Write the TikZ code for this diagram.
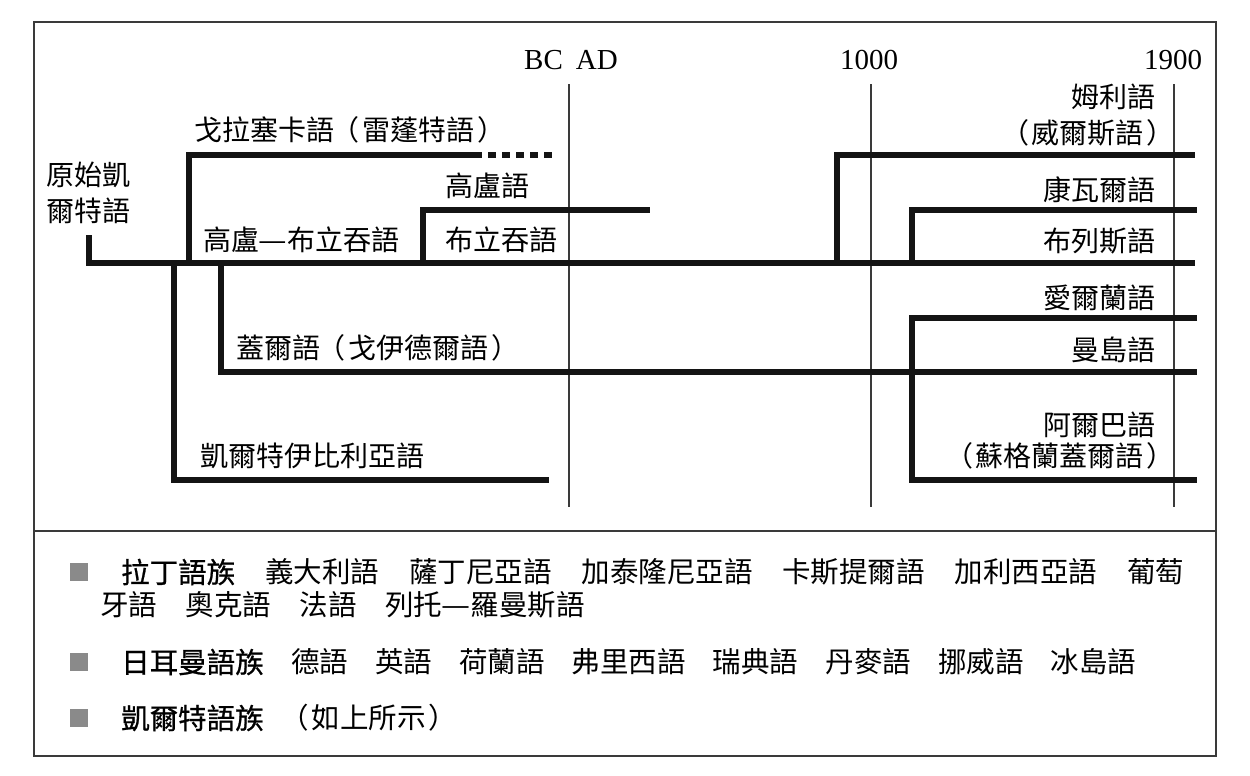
\documentclass[tikz,border=0pt]{standalone}
\usepackage{graphicx}
\usepackage{fontspec}
\setmainfont{Noto Sans CJK TC}
\newfontfamily\numfont{Liberation Serif}
\newfontfamily\famfont[FakeBold=0.8]{Noto Sans CJK TC}
% full-width brackets and dash, each given a whole character cell
\newcommand{\zkL}{\makebox[1em][r]{（\hspace{0.1em}}}
\newcommand{\zkR}{\makebox[1em][l]{\hspace{0.1em}）}}
\newcommand{\zdash}{\makebox[1em]{\resizebox{1.02em}{\height}{—}}}
\definecolor{ink}{HTML}{141414}
\definecolor{rule}{HTML}{3A3A3A}
\definecolor{boxgray}{HTML}{8A8A8A}
\begin{document}
\begin{tikzpicture}[x=1pt,y=-1pt,
  branch/.style={draw=ink, line width=6pt, line cap=butt, line join=miter},
  era/.style={draw=rule, line width=1.1pt},
  frame/.style={draw=rule, line width=1.5pt},
  lbl/.style={inner sep=0pt, font=\fontsize{28}{34}\selectfont},
  yr/.style={inner sep=0pt, font=\numfont\fontsize{29}{34}\selectfont},
  fam/.style={inner sep=0pt, anchor=west, font=\famfont\fontsize{28.5}{34}\selectfont},
  item/.style={inner sep=0pt, anchor=west, font=\fontsize{28.5}{34}\selectfont},
  bullet/.style={fill=boxgray, inner sep=0pt, minimum size=18pt}
]
\useasboundingbox (0,0) rectangle (1250,776);

% outer frame and the rule above the legend
\draw[frame] (34,22) rectangle (1216,756);
\draw[frame] (34,531) -- (1216,531);

% time scale
\node[yr] (bcad) at (571,60) {BC\hspace{0.45em}AD};
\node[yr] (y1000) at (869,60) {1000};
\node[yr] (y1900) at (1173,60) {1900};
\coordinate (bcadtop) at (569,84);  \coordinate (bcadbot) at (569,507);
\coordinate (ktop) at (871,84);     \coordinate (kbot) at (871,507);
\coordinate (ntop) at (1174,84);    \coordinate (nbot) at (1174,507);
\draw[era] (bcadtop) -- (bcadbot);
\draw[era] (ktop) -- (kbot);
\draw[era] (ntop) -- (nbot);

% branch points
\coordinate (root) at (89,235);
\coordinate (trunk) at (89,263);
\coordinate (trunkend) at (1195,263);
\coordinate (lepfork) at (189,263);
\coordinate (lepend) at (482,155);
\coordinate (lepdots) at (488,155);
\coordinate (lepdotsend) at (556,155);
\coordinate (celtibfork) at (174,263);
\coordinate (celtibend) at (549,480);
\coordinate (goidfork) at (221,263);
\coordinate (goidend) at (1197,372);
\coordinate (gaulfork) at (423,263);
\coordinate (gaulend) at (650,210);
\coordinate (welshfork) at (837,263);
\coordinate (welshend) at (1195,155);
\coordinate (cornfork) at (912,263);
\coordinate (cornend) at (1197,210);
\coordinate (irtop) at (912,318);
\coordinate (irend) at (1197,318);
\coordinate (scotbot) at (912,480);
\coordinate (scotend) at (1197,480);

% the tree
\draw[branch] (root) -- (trunk) -- (trunkend);
\draw[branch] (lepfork) |- (lepend);
\draw[branch, dash pattern=on 8pt off 6pt] (lepdots) -- (lepdotsend);
\draw[branch] (celtibfork) |- (celtibend);
\draw[branch] (goidfork) |- (goidend);
\draw[branch] (gaulfork) |- (gaulend);
\draw[branch] (welshfork) |- (welshend);
\draw[branch] (cornfork) |- (cornend);
\draw[branch] (irend) -- (irtop) -- (scotbot) -- (scotend);

% labels on the tree
\node[lbl, anchor=west] (proto1) at (46,175) {原始凱};
\node[lbl, anchor=west] (proto2) at (46,211) {爾特語};
\node[lbl, anchor=west] (lep) at (194,130) {戈拉塞卡語\zkL 雷蓬特語\zkR};
\node[lbl, anchor=west] (gaul) at (445,186) {高盧語};
\node[lbl, anchor=west] (galbr) at (203,240) {高盧\zdash 布立吞語};
\node[lbl, anchor=west] (bryth) at (445,240) {布立吞語};
\node[lbl, anchor=west] (goid) at (236,348) {蓋爾語\zkL 戈伊德爾語\zkR};
\node[lbl, anchor=west] (celtib) at (200,456) {凱爾特伊比利亞語};

\node[lbl, anchor=east] (welsh1) at (1156,97) {姆利語};
\node[lbl, anchor=east] (welsh2) at (1172,133) {\zkL 威爾斯語\zkR};
\node[lbl, anchor=east] (corn) at (1156,190) {康瓦爾語};
\node[lbl, anchor=east] (bret) at (1156,241) {布列斯語};
\node[lbl, anchor=east] (irish) at (1156,298) {愛爾蘭語};
\node[lbl, anchor=east] (manx) at (1156,350) {曼島語};
\node[lbl, anchor=east] (scot1) at (1156,425) {阿爾巴語};
\node[lbl, anchor=east] (scot2) at (1172,456) {\zkL 蘇格蘭蓋爾語\zkR};

% legend
\node[bullet] (b1) at (79,572) {};
\node[fam] (latin) at (121,572) {拉丁語族};
\node[item] (latinlist) at (265,572) {義大利語\hspace{1.05em}薩丁尼亞語\hspace{1.05em}加泰隆尼亞語\hspace{1.05em}卡斯提爾語\hspace{1.05em}加利西亞語\hspace{1.05em}葡萄};
\node[item] (latinlist2) at (100,605) {牙語\hspace{1em}奧克語\hspace{1em}法語\hspace{1em}列托\zdash 羅曼斯語};

\node[bullet] (b2) at (79,662) {};
\node[fam] (germ) at (121,662) {日耳曼語族};
\node[item] (germlist) at (291,662) {德語\hspace{0.95em}英語\hspace{0.95em}荷蘭語\hspace{0.95em}弗里西語\hspace{0.95em}瑞典語\hspace{0.95em}丹麥語\hspace{0.95em}挪威語\hspace{0.95em}冰島語};

\node[bullet] (b3) at (79,718) {};
\node[fam] (celt) at (121,718) {凱爾特語族};
\node[item] (celtnote) at (283,718) {\zkL 如上所示\zkR};
\end{tikzpicture}
\end{document}
